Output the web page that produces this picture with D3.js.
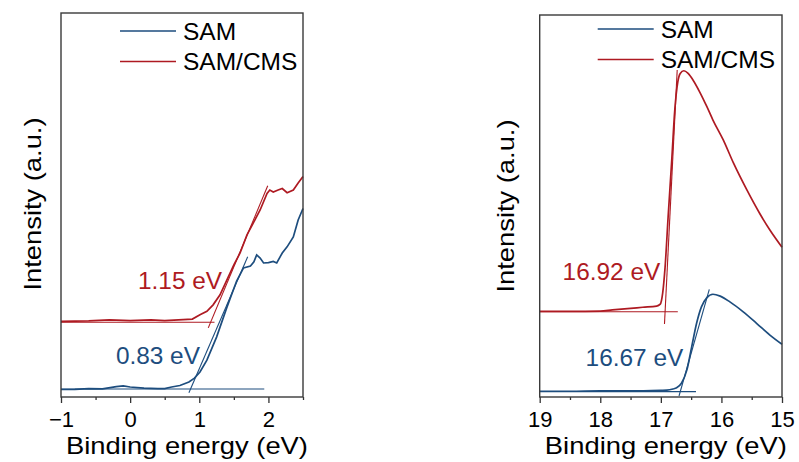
<!DOCTYPE html>
<html>
<head>
<meta charset="utf-8">
<script src="https://cdn.jsdelivr.net/npm/d3@7"></script>
<style>
  body { margin: 0; background: #fff; }
  text { font-family: Arial, "Liberation Sans", Helvetica, sans-serif; }
</style>
</head>
<body>
<div id="chart"></div>
<script>
// couleurs
const blue = "#1d4d7e";
const red = "#ae1a22";

// ---- panneau gauche (VB) : énergie de liaison (eV), intensité (u.a.)
const vbSamE = [-1.0, -0.8, -0.6, -0.4, -0.2, -0.1, 0.0, 0.2, 0.4, 0.5, 0.6, 0.72, 0.85, 0.93, 1.01, 1.11, 1.25, 1.40, 1.54, 1.64, 1.74, 1.79, 1.83, 1.88, 1.93, 2.00, 2.07, 2.12, 2.20, 2.27, 2.36, 2.43, 2.50];
const vbSamI = [1.95, 2.0, 2.2, 2.1, 2.7, 2.9, 2.6, 2.3, 2.2, 2.2, 2.6, 3.0, 3.9, 4.9, 6.5, 9.6, 15.6, 23.4, 30.2, 33.6, 34.1, 35.2, 37.0, 36.2, 34.9, 35.0, 35.3, 34.9, 37.5, 39.1, 41.7, 46.1, 49.1];
const vbCmsE = [-1.0, -0.6, -0.3, 0.0, 0.3, 0.5, 0.7, 0.9, 1.01, 1.11, 1.20, 1.30, 1.40, 1.50, 1.59, 1.69, 1.78, 1.88, 1.98, 2.02, 2.07, 2.14, 2.20, 2.27, 2.36, 2.43, 2.50];
const vbCmsI = [19.7, 19.8, 20.1, 19.9, 20.1, 19.9, 20.1, 20.3, 21.4, 22.3, 24.0, 26.6, 30.5, 34.4, 37.5, 42.2, 45.3, 48.7, 53.0, 53.9, 53.4, 53.9, 54.3, 53.2, 53.9, 55.7, 57.4];
// droites d'extrapolation [x1, y1, x2, y2]
const vbFits = [
  { color: blue, pts: [-1, 2.08, 1.94, 2.08] },
  { color: blue, pts: [0.85, 1.12, 1.70, 36.5] },
  { color: red, pts: [-1, 19.45, 1.22, 19.45] },
  { color: red, pts: [1.13, 18.0, 1.99, 55.0] }
];
const vbLabels = [
  { text: "1.15 eV", color: red, x: 1.33, y: 28.1 },
  { text: "0.83 eV", color: blue, x: 1.01, y: 8.6 }
];

// ---- panneau droit (cut-off)
const coSamE = [19.0, 18.5, 18.0, 17.5, 17.0, 16.90, 16.80, 16.74, 16.66, 16.57, 16.49, 16.41, 16.33, 16.24, 16.14, 16.02, 15.86, 15.64, 15.42, 15.20, 15.00];
const coSamI = [1.5, 1.5, 1.6, 1.6, 1.75, 1.8, 2.1, 2.4, 3.6, 7.1, 13.2, 19.3, 23.6, 26.0, 26.9, 26.4, 24.9, 22.3, 19.3, 16.2, 13.8];
const coCmsE = [19.0, 18.5, 18.0, 17.8, 17.5, 17.3, 17.07, 17.01, 16.97, 16.93, 16.88, 16.82, 16.77, 16.72, 16.68, 16.62, 16.55, 16.47, 16.36, 16.24, 16.14, 15.97, 15.80, 15.58, 15.37, 15.20, 15.00];
const coCmsI = [22.4, 22.4, 22.5, 22.8, 23.2, 23.5, 23.8, 24.3, 27.2, 34.0, 47.1, 62.0, 75.1, 82.5, 84.7, 85.4, 84.7, 83.0, 79.9, 76.0, 72.5, 67.3, 61.2, 54.2, 48.1, 43.7, 39.2];
const coFits = [
  { color: red, pts: [19, 22.3, 16.72, 22.3] },
  { color: red, pts: [16.73, 85.6, 16.94, 19.1] },
  { color: blue, pts: [19, 1.4, 16.42, 1.4] },
  { color: blue, pts: [16.70, 0.26, 16.20, 28.2] }
];
const coLabels = [
  { text: "16.92 eV", color: red, x: 17.01, y: 30.6 },
  { text: "16.67 eV", color: blue, x: 16.63, y: 8.2 }
];

const vbTicks = [-1, 0, 1, 2];
const vbMinor = [-0.5, 0.5, 1.5, 2.5];
const coTicks = [19, 18, 17, 16, 15];
const coMinor = [18.5, 17.5, 16.5, 15.5];

const legendNames = ["SAM", "SAM/CMS"];
const legendColors = [blue, red];

const W = 799, H = 462;
const svg = d3.select("#chart").append("svg")
  .attr("width", W).attr("height", H);

function panel(opt) {
  const x = d3.scaleLinear().domain(opt.xDomain).range([opt.left, opt.right]);
  const y = d3.scaleLinear().domain([0, 100]).range([opt.bottom, opt.top]);
  const g = svg.append("g");

  const zip = (xs, ys) => xs.map((v, i) => [v, ys[i]]);
  const line = d3.line().x(d => x(d[0])).y(d => y(d[1])).curve(opt.curve);

  // droites d'ajustement
  g.selectAll(".fit").data(opt.fits).enter().append("line")
    .attr("x1", d => x(d.pts[0])).attr("y1", d => y(d.pts[1]))
    .attr("x2", d => x(d.pts[2])).attr("y2", d => y(d.pts[3]))
    .attr("stroke", d => d.color).attr("stroke-width", 1.1);

  // courbes
  opt.series.forEach(s => {
    g.append("path")
      .datum(zip(s.e, s.i))
      .attr("fill", "none")
      .attr("stroke", s.color)
      .attr("stroke-width", 1.7)
      .attr("d", line);
  });

  // axe x
  const ax = g.append("g")
    .attr("transform", `translate(0,${opt.bottom})`)
    .call(d3.axisBottom(x).tickValues(opt.ticks).tickSize(6).tickPadding(8)
      .tickFormat(d => d < 0 ? "\u22121" : d));
  ax.select(".domain").remove();
  ax.selectAll(".tick line").attr("stroke", "#333").attr("stroke-width", 1.3);
  ax.selectAll(".tick text").attr("font-size", 22).attr("fill", "#000")
    .attr("font-family", "Arial, 'Liberation Sans', sans-serif");

  g.append("g")
    .attr("transform", `translate(0,${opt.bottom})`)
    .call(d3.axisBottom(x).tickValues(opt.minor).tickSize(3).tickFormat(""))
    .call(a => a.select(".domain").remove())
    .selectAll(".tick line").attr("stroke", "#333").attr("stroke-width", 1.3);

  // cadre
  g.append("rect")
    .attr("x", opt.left).attr("y", opt.top)
    .attr("width", opt.right - opt.left).attr("height", opt.bottom - opt.top)
    .attr("fill", "none").attr("stroke", "#3a3a3a").attr("stroke-width", 1.4);

  // titres des axes
  g.append("text")
    .attr("x", (opt.left + opt.right) / 2 + 5).attr("y", 454)
    .attr("text-anchor", "middle").attr("font-size", 24.5)
    .attr("textLength", 242).attr("lengthAdjust", "spacingAndGlyphs")
    .text("Binding energy (eV)");

  g.append("text")
    .attr("transform", `translate(${opt.ylabX},${opt.ylabY}) rotate(-90)`)
    .attr("text-anchor", "middle").attr("font-size", 24)
    .attr("textLength", 173).attr("lengthAdjust", "spacingAndGlyphs")
    .text("Intensity (a.u.)");

  // annotations
  g.selectAll(".lab").data(opt.labels).enter().append("text")
    .attr("x", d => x(d.x)).attr("y", d => y(d.y))
    .attr("text-anchor", "end").attr("font-size", 24.4)
    .attr("fill", d => d.color)
    .text(d => d.text);

  // légende
  const leg = g.append("g");
  legendNames.forEach((n, i) => {
    const ly = opt.legY + i * 30.5;
    leg.append("line")
      .attr("x1", opt.legX).attr("x2", opt.legX + 56)
      .attr("y1", ly).attr("y2", ly)
      .attr("stroke", legendColors[i]).attr("stroke-width", 1.6);
    leg.append("text")
      .attr("x", opt.legX + 63).attr("y", ly + 8.5)
      .attr("font-size", 24.5)
      .text(n);
  });
}

panel({
  left: 61, right: 303, top: 13, bottom: 397,
  xDomain: [-1, 2.5], ticks: vbTicks, minor: vbMinor,
  curve: d3.curveLinear,
  series: [
    { e: vbSamE, i: vbSamI, color: blue },
    { e: vbCmsE, i: vbCmsI, color: red }
  ],
  fits: vbFits, labels: vbLabels,
  ylabX: 40.5, ylabY: 204, legX: 120, legY: 31
});

panel({
  left: 539.7, right: 782, top: 15, bottom: 397,
  xDomain: [19, 15], ticks: coTicks, minor: coMinor,
  curve: d3.curveMonotoneX,
  series: [
    { e: coSamE, i: coSamI, color: blue },
    { e: coCmsE, i: coCmsI, color: red }
  ],
  fits: coFits, labels: coLabels,
  ylabX: 513.5, ylabY: 206, legX: 597.7, legY: 29
});
</script>
</body>
</html>
